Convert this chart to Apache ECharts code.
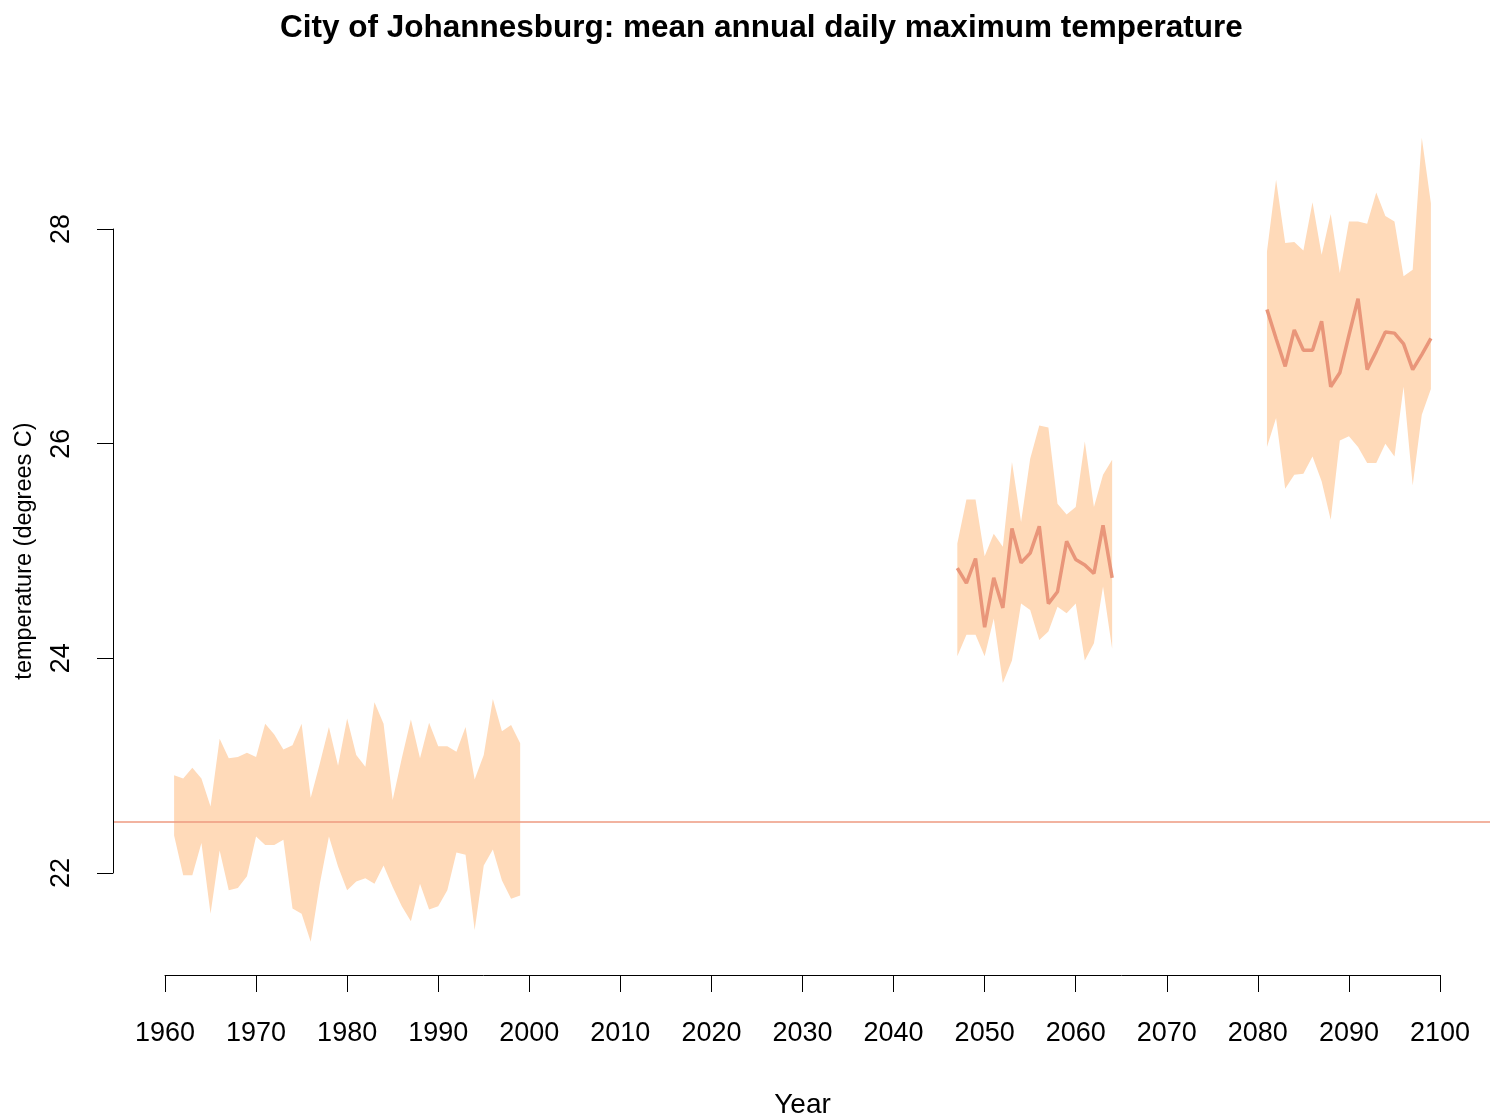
<!DOCTYPE html>
<html>
<head>
<meta charset="utf-8">
<script src="https://cdn.jsdelivr.net/npm/echarts@6/dist/echarts.min.js"></script>
<style>
  html, body { margin: 0; padding: 0; background: #fff; }
  #chart { width: 1490px; height: 1119px; }
</style>
</head>
<body>
<div id="chart"></div>
<script>
// observed period
var histYears = [1961, 1962, 1963, 1964, 1965, 1966, 1967, 1968, 1969, 1970,
  1971, 1972, 1973, 1974, 1975, 1976, 1977, 1978, 1979, 1980,
  1981, 1982, 1983, 1984, 1985, 1986, 1987, 1988, 1989, 1990,
  1991, 1992, 1993, 1994, 1995, 1996, 1997, 1998, 1999];
var histUpper = [22.91, 22.88, 22.98, 22.88, 22.62, 23.25, 23.07, 23.08, 23.12, 23.08,
  23.39, 23.29, 23.15, 23.19, 23.39, 22.70, 23.02, 23.36, 23.00, 23.44,
  23.10, 22.99, 23.59, 23.39, 22.68, 23.07, 23.43, 23.07, 23.40, 23.18,
  23.18, 23.13, 23.36, 22.87, 23.10, 23.62, 23.32, 23.38, 23.21];
var histLower = [22.35, 21.98, 21.98, 22.28, 21.62, 22.21, 21.84, 21.86, 21.97, 22.34,
  22.26, 22.26, 22.31, 21.67, 21.62, 21.36, 21.90, 22.34, 22.06, 21.84,
  21.92, 21.95, 21.90, 22.07, 21.87, 21.69, 21.55, 21.90, 21.66, 21.69,
  21.84, 22.19, 22.17, 21.47, 22.07, 22.22, 21.93, 21.76, 21.79];

// mid century projection
var midYears = [2047, 2048, 2049, 2050, 2051, 2052, 2053, 2054, 2055,
  2056, 2057, 2058, 2059, 2060, 2061, 2062, 2063, 2064];
var midUpper = [25.07, 25.48, 25.48, 24.95, 25.16, 25.04, 25.83, 25.27, 25.86,
  26.17, 26.15, 25.44, 25.34, 25.41, 26.02, 25.41, 25.71, 25.85];
var midMean = [24.84, 24.70, 24.93, 24.29, 24.75, 24.47, 25.21, 24.89, 24.98,
  25.23, 24.51, 24.62, 25.09, 24.92, 24.87, 24.79, 25.24, 24.75];
var midLower = [24.02, 24.22, 24.22, 24.02, 24.37, 23.77, 23.98, 24.51, 24.45,
  24.17, 24.25, 24.48, 24.42, 24.51, 23.98, 24.14, 24.67, 24.09];

// end of century projection
var endYears = [2081, 2082, 2083, 2084, 2085, 2086, 2087, 2088, 2089, 2090,
  2091, 2092, 2093, 2094, 2095, 2096, 2097, 2098, 2099];
var endUpper = [27.79, 28.46, 27.87, 27.88, 27.80, 28.25, 27.76, 28.14, 27.59, 28.07,
  28.07, 28.05, 28.34, 28.12, 28.07, 27.56, 27.62, 28.85, 28.24];
var endMean = [27.25, 26.98, 26.72, 27.06, 26.87, 26.87, 27.14, 26.53, 26.66, 27.01,
  27.35, 26.69, 26.86, 27.04, 27.03, 26.93, 26.69, 26.83, 26.98];
var endLower = [25.97, 26.24, 25.58, 25.71, 25.72, 25.88, 25.65, 25.29, 26.03, 26.07,
  25.97, 25.82, 25.82, 26.00, 25.88, 26.53, 25.61, 26.27, 26.51];

var baseline = 22.48;

var bands = [
  { years: histYears, upper: histUpper, lower: histLower },
  { years: midYears, upper: midUpper, lower: midLower },
  { years: endYears, upper: endUpper, lower: endLower }
];

function pairs(xs, ys) {
  return xs.map(function (x, i) { return [x, ys[i]]; });
}

var font = "'Liberation Sans', Arial, Helvetica, sans-serif";

var myChart = echarts.init(document.getElementById("chart"));
var option = {
  backgroundColor: "#fff",
  animation: false,
  title: {
    text: "City of Johannesburg: mean annual daily maximum temperature",
    left: 280,
    top: 12,
    padding: 0,
    textStyle: { fontFamily: font, fontSize: 31.5, fontWeight: "bold", color: "#000" }
  },
  grid: [
    // data area (axes hidden)
    { left: 114, right: 0, top: 121.67, bottom: 138.67, outerBoundsMode: "none" },
    // axes only, R style detached axes
    { left: 165, right: 50, top: 229, bottom: 246, outerBoundsMode: "none" }
  ],
  xAxis: [
    { gridIndex: 0, type: "value", min: 1954.4, max: 2105.49, show: false },
    {
      gridIndex: 1, type: "value", min: 1960, max: 2100, interval: 10,
      offset: 102,
      name: "Year", nameLocation: "middle", nameGap: 116,
      nameTextStyle: { fontFamily: font, fontSize: 28, color: "#000" },
      axisLine: { show: true, lineStyle: { color: "#000", width: 1 } },
      axisTick: { show: true, length: 17, lineStyle: { color: "#000", width: 1 } },
      axisLabel: {
        fontFamily: font, fontSize: 27, color: "#000", margin: 45,
        formatter: function (v) { return String(v); }
      },
      splitLine: { show: false }
    }
  ],
  yAxis: [
    { gridIndex: 0, type: "value", min: 21, max: 29, show: false },
    {
      gridIndex: 1, type: "value", min: 22, max: 28, interval: 2,
      offset: 52,
      name: "temperature (degrees C)", nameLocation: "middle", nameGap: 76, nameRotate: 90,
      nameTextStyle: { fontFamily: font, fontSize: 23.5, color: "#000" },
      axisLine: { show: true, lineStyle: { color: "#000", width: 1 } },
      axisTick: { show: true, length: 16, lineStyle: { color: "#000", width: 1 } },
      axisLabel: { fontFamily: font, fontSize: 27, color: "#000", rotate: 90, margin: 38 },
      splitLine: { show: false }
    }
  ],
  series: [
    {
      name: "range",
      type: "custom",
      xAxisIndex: 0,
      yAxisIndex: 0,
      z: 1,
      silent: true,
      data: bands.map(function (b) { return [b.years[0], b.lower[0]]; }),
      renderItem: function (params, api) {
        var b = bands[params.dataIndex];
        var pts = [];
        for (var i = 0; i < b.years.length; i++) {
          pts.push(api.coord([b.years[i], b.upper[i]]));
        }
        for (var j = b.years.length - 1; j >= 0; j--) {
          pts.push(api.coord([b.years[j], b.lower[j]]));
        }
        return { type: "polygon", shape: { points: pts }, style: { fill: "#FFDAB9" } };
      }
    },
    {
      name: "mid mean",
      type: "line",
      xAxisIndex: 0,
      yAxisIndex: 0,
      z: 3,
      showSymbol: false,
      silent: true,
      data: pairs(midYears, midMean),
      lineStyle: { color: "#E9967A", width: 3.5 },
      markLine: {
        silent: true,
        symbol: "none",
        label: { show: false },
        lineStyle: { color: "#EE9A80", width: 1.5, type: "solid" },
        data: [{ yAxis: baseline }]
      }
    },
    {
      name: "end mean",
      type: "line",
      xAxisIndex: 0,
      yAxisIndex: 0,
      z: 3,
      showSymbol: false,
      silent: true,
      data: pairs(endYears, endMean),
      lineStyle: { color: "#E9967A", width: 3.5 }
    }
  ]
};
myChart.setOption(option);
</script>
</body>
</html>
